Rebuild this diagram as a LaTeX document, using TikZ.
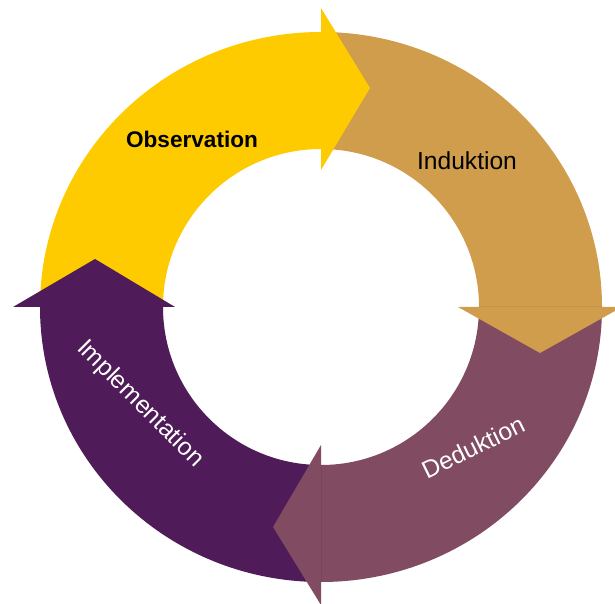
\documentclass[tikz,border=0pt]{standalone}
\usepackage{fontspec}
\setmainfont{Liberation Sans}
\definecolor{obsyellow}{RGB}{253,203,0}
\definecolor{indtan}{RGB}{207,157,75}
\definecolor{dedmauve}{RGB}{129,75,98}
\definecolor{implpurple}{RGB}{79,27,88}

\begin{document}
\begin{tikzpicture}[x=0.5pt,y=0.5pt,
		lbl/.style={font=\fontsize{12.3}{14}\selectfont},
		boldlbl/.style={font=\fontsize{11.3}{13}\selectfont\bfseries}]
			\useasboundingbox (-321,-297) rectangle (294,307);
			\clip (-321,-297) rectangle (294,307);
			% the four ring pieces
			\fill[obsyellow] (180:281 and 275) arc[start angle=180,end angle=90,x radius=281,y radius=275]
				-- (90:158) arc[start angle=90,end angle=180,radius=158] -- cycle;
			\fill[indtan] (90:281 and 275) arc[start angle=90,end angle=0,x radius=281,y radius=275]
				-- (0:158) arc[start angle=0,end angle=90,radius=158] -- cycle;
			\fill[dedmauve] (0:281 and 275) arc[start angle=0,end angle=-90,x radius=281,y radius=275]
				-- (-90:158) arc[start angle=-90,end angle=0,radius=158] -- cycle;
			\fill[implpurple] (-90:281 and 275) arc[start angle=-90,end angle=-180,x radius=281,y radius=275]
				-- (-180:158) arc[start angle=-180,end angle=-90,radius=158] -- cycle;
			% arrow heads, each lying on the next piece
			\fill[obsyellow] (0,299) -- (49,219) -- (0,137) -- cycle;
			\fill[indtan] (137,0) -- (219,-46) -- (301,0) -- cycle;
			\fill[dedmauve] (0,-138) -- (-48,-220) -- (0,-298) -- cycle;
			\fill[implpurple] (-146,0) -- (-226,48) -- (-308,0) -- cycle;
			% labels
			\node[boldlbl] (obs) at (-129,168) {Observation};
			\node[lbl] (ind) at (146,146) {Induktion};
			\node[lbl,white,rotate=26] (ded) at (152,-140) {Deduktion};
			\node[lbl,white,rotate=-45] (impl) at (-181,-97) {Implementation};
		\end{tikzpicture}
\end{document}
